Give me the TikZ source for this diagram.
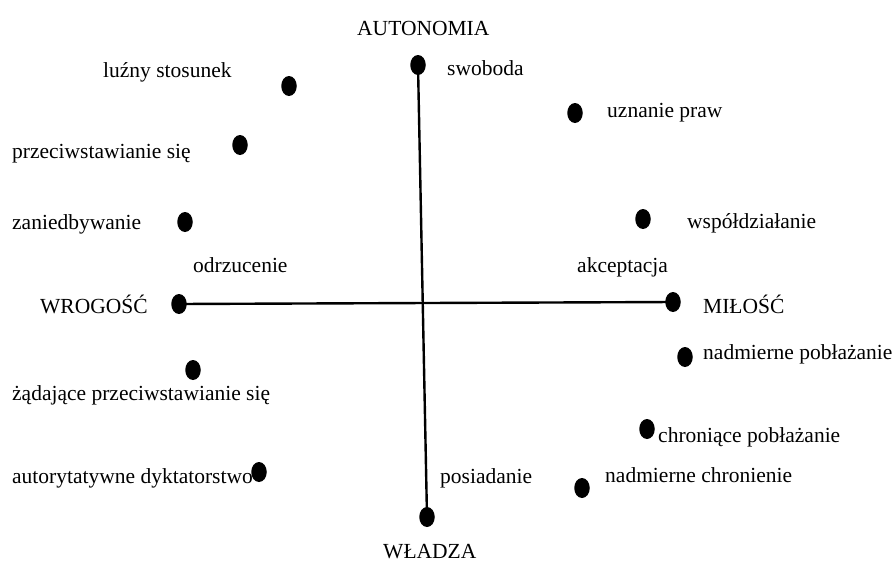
\documentclass[tikz,border=0pt]{standalone}
\usepackage{fontspec}
\setmainfont{Liberation Serif}
\usetikzlibrary{shapes.geometric}
\begin{document}
\begin{tikzpicture}[x=1pt,y=-1pt,
  dot/.style={ellipse, fill=black, inner sep=0pt, minimum width=15.5pt, minimum height=20pt},
  lbl/.style={inner sep=0pt, anchor=base west, font=\fontsize{21.5}{25}\selectfont},
  axisline/.style={line width=2.4pt}]
\useasboundingbox[fill=white] (0,0) rectangle (894,563);
% dots
\node[dot] (top) at (418,65) {};
\node[dot] (bottom) at (427,517) {};
\node[dot] (left) at (179,304) {};
\node[dot] (right) at (673,302) {};
\node[dot] (d1) at (289,86) {};
\node[dot] (d2) at (240,145) {};
\node[dot] (d3) at (185,222) {};
\node[dot] (d4) at (575,113) {};
\node[dot] (d5) at (643,219) {};
\node[dot] (d6) at (685,357) {};
\node[dot] (d7) at (193,370) {};
\node[dot] (d8) at (647,429) {};
\node[dot] (d9) at (259,472) {};
\node[dot] (d10) at (582,488) {};
% axes
\draw[axisline] (top.center) -- (bottom.center);
\draw[axisline] (left.center) -- (right.center);
% labels
\node[lbl] (tA) at (357,35) {AUTONOMIA};
\node[lbl] (tW) at (383,558) {WŁADZA};
\node[lbl] (tWr) at (40,313) {WROGOŚĆ};
\node[lbl] (tM) at (703,313) {MIŁOŚĆ};
\node[lbl] (t1) at (103,77) {luźny stosunek};
\node[lbl] (t2) at (447,75) {swoboda};
\node[lbl] (t3) at (607,117) {uznanie praw};
\node[lbl] (t4) at (12,158) {przeciwstawianie się};
\node[lbl] (t5) at (12,229) {zaniedbywanie};
\node[lbl] (t6) at (687,228) {współdziałanie};
\node[lbl] (t7) at (193,272) {odrzucenie};
\node[lbl] (t8) at (577,272) {akceptacja};
\node[lbl] (t9) at (703,359) {nadmierne pobłażanie};
\node[lbl] (t10) at (12,400) {żądające przeciwstawianie się};
\node[lbl] (t11) at (658,442) {chroniące pobłażanie};
\node[lbl] (t12) at (12,483) {autorytatywne dyktatorstwo};
\node[lbl] (t13) at (440,483) {posiadanie};
\node[lbl] (t14) at (605,482) {nadmierne chronienie};
\end{tikzpicture}
\end{document}
